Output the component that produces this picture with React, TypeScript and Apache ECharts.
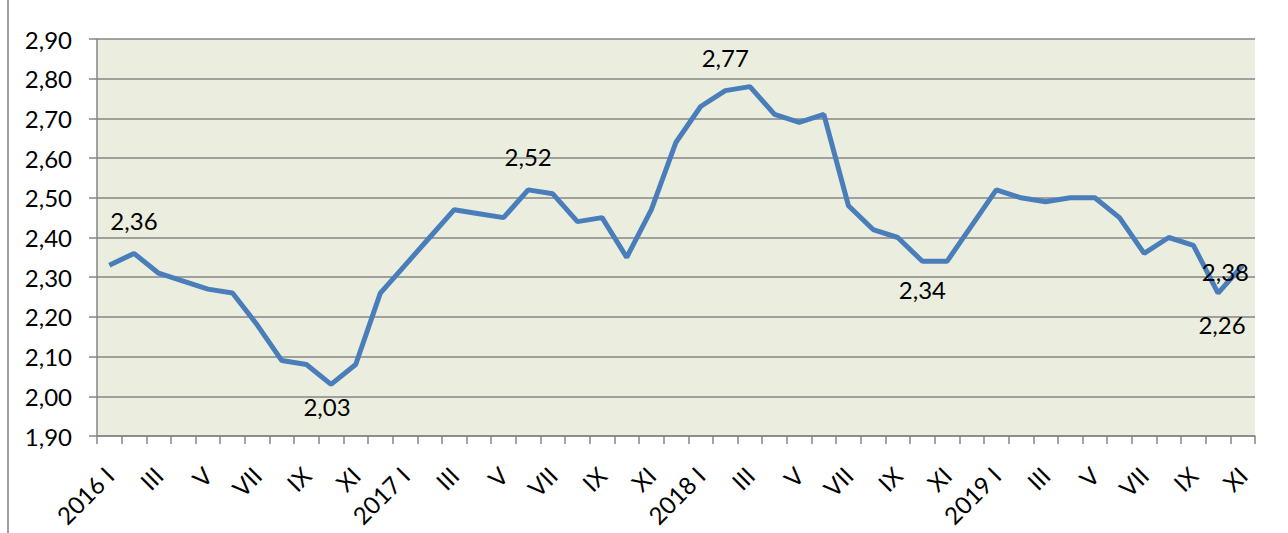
import React, { useEffect, useRef } from "react";
import * as echarts from "echarts";

const years = ["2016", "2017", "2018", "2019"];
const months = ["I", "II", "III", "IV", "V", "VI", "VII", "VIII", "IX", "X", "XI", "XII"];

const values2016 = [2.33, 2.36, 2.31, 2.29, 2.27, 2.26, 2.18, 2.09, 2.08, 2.03, 2.08, 2.26];
const values2017 = [2.33, 2.40, 2.47, 2.46, 2.45, 2.52, 2.51, 2.44, 2.45, 2.35, 2.47, 2.64];
const values2018 = [2.73, 2.77, 2.78, 2.71, 2.69, 2.71, 2.48, 2.42, 2.40, 2.34, 2.34, 2.43];
const values2019 = [2.52, 2.50, 2.49, 2.50, 2.50, 2.45, 2.36, 2.40, 2.38, 2.26, 2.33];

const yearValues = [values2016, values2017, values2018, values2019];

// Labelled points: index into the full series, with the text shown
const labelledIndex = [1, 9, 17, 25, 33, 44, 45];
const labelledText = ["2,36", "2,03", "2,52", "2,77", "2,34", "2,38", "2,26"];
// placement of each label relative to its point (pixels)
const labelOffsets = [
  [0, -33],
  [-4, 22],
  [0, -33],
  [0, -33],
  [0, 28],
  [32, 26],
  [4, 31],
];

const categories: string[] = [];
const values: number[] = [];
yearValues.forEach((arr, yi) => {
  arr.forEach((v, mi) => {
    categories.push(mi === 0 ? `${years[yi]} ${months[mi]}` : months[mi]);
    values.push(v);
  });
});

const FONT = "Lato, 'Open Sans', sans-serif";
const FS = 24;

export default function App() {
  const ref = useRef<HTMLDivElement>(null);
  useEffect(() => {
    if (!ref.current) return;
    const chart = echarts.init(ref.current, undefined, { renderer: "svg" });
    const data = values.map((v, i) => {
      const k = labelledIndex.indexOf(i);
      if (k < 0) return { value: v };
      const [dx, dy] = labelOffsets[k];
      return {
        value: v,
        label: {
          show: true,
          position: [0.5 + dx, 0.5 + dy],
          align: "center",
          verticalAlign: "middle",
          formatter: labelledText[k],
          color: "#000",
          fontSize: FS,
          fontFamily: FONT,
        },
      };
    });
    chart.setOption({
      animation: false,
      backgroundColor: "#ffffff",
      textStyle: { fontFamily: FONT },
      grid: {
        left: 97,
        right: 33,
        top: 39,
        bottom: 97,
        show: true,
        backgroundColor: "#EBEEDF",
        borderWidth: 0,
      },
      xAxis: {
        type: "category",
        data: categories,
        boundaryGap: true,
        axisLine: { show: true, lineStyle: { color: "#868686", width: 1.5 } },
        axisTick: {
          show: true,
          interval: 0,
          length: 8,
          lineStyle: { color: "#868686", width: 1.5 },
        },
        axisLabel: {
          interval: 1,
          rotate: 45,
          margin: 35,
          color: "#000",
          fontSize: FS,
          fontFamily: FONT,
        },
        splitLine: { show: false },
      },
      yAxis: {
        type: "value",
        min: 1.9,
        max: 2.9,
        interval: 0.1,
        axisLine: { show: true, lineStyle: { color: "#868686", width: 1.5 } },
        axisTick: {
          show: true,
          length: 8,
          lineStyle: { color: "#868686", width: 1.5 },
        },
        axisLabel: {
          margin: 25,
          color: "#000",
          fontSize: FS,
          fontFamily: FONT,
          formatter: (v: number) => v.toFixed(2).replace(".", ","),
        },
        splitLine: { show: true, lineStyle: { color: "#868686", width: 1.5 } },
      },
      graphic: [
        {
          type: "line",
          shape: { x1: 8, y1: 0, x2: 8, y2: 533 },
          style: { stroke: "#7f7f7f", lineWidth: 1.5 },
        },
      ],
      series: [
        {
          type: "line",
          data,
          symbol: "circle",
          symbolSize: 1,
          showSymbol: true,
          itemStyle: { color: "rgba(0,0,0,0)", borderWidth: 0 },
          lineStyle: { color: "#4A7EBB", width: 5 },
          label: { show: false },
          labelLayout: { hideOverlap: false },
          emphasis: { disabled: true },
          z: 3,
        },
      ],
    });
    return () => chart.dispose();
  }, []);
  return (
    <div
      ref={ref}
      style={{ position: "absolute", left: 0, top: 0, width: 1288, height: 533 }}
    />
  );
}
